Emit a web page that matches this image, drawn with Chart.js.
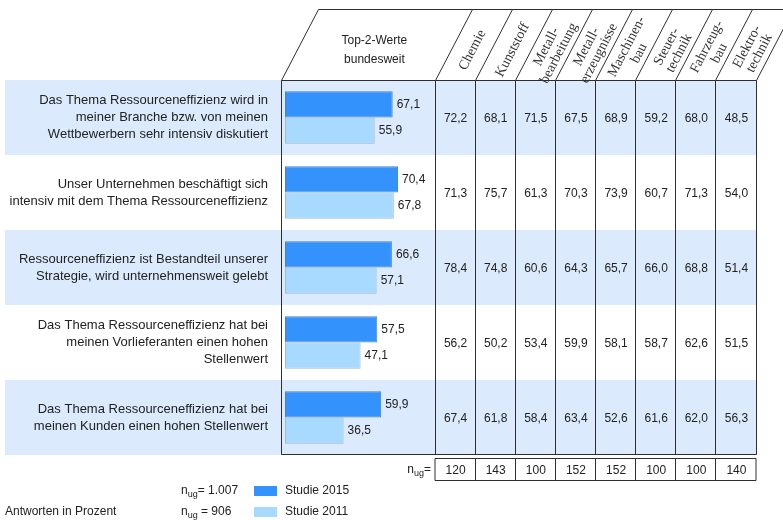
<!DOCTYPE html>
<html>
<head>
<meta charset="utf-8">
<script src="https://cdn.jsdelivr.net/npm/chart.js@4.4.1/dist/chart.umd.min.js"></script>
<style>
  html, body { margin: 0; padding: 0; background: #fff; }
  canvas { display: block; }
</style>
</head>
<body>
<canvas id="chart" width="783" height="520"></canvas>
<script>
const statements = [
  ['Das Thema Ressourceneffizienz wird in', 'meiner Branche bzw. von meinen', 'Wettbewerbern sehr intensiv diskutiert'],
  ['Unser Unternehmen beschäftigt sich', 'intensiv mit dem Thema Ressourceneffizienz'],
  ['Ressourceneffizienz ist Bestandteil unserer', 'Strategie, wird unternehmensweit gelebt'],
  ['Das Thema Ressourceneffizienz hat bei', 'meinen Vorlieferanten einen hohen', 'Stellenwert'],
  ['Das Thema Ressourceneffizienz hat bei', 'meinen Kunden einen hohen Stellenwert'],
]
const study2015 = [67.1, 70.4, 66.6, 57.5, 59.9]
const study2011 = [55.9, 67.8, 57.1, 47.1, 36.5]
const sampleTotal = ['1.007', '906']

const branches = [
  ['Chemie'],
  ['Kunststoff'],
  ['Metall-', 'bearbeitung'],
  ['Metall-', 'erzeugnisse'],
  ['Maschinen-', 'bau'],
  ['Steuer-', 'technik'],
  ['Fahrzeug-', 'bau'],
  ['Elektro-', 'technik'],
]
// one row per statement, one value per branch
const branchValues = [
  [72.2, 68.1, 71.5, 67.5, 68.9, 59.2, 68.0, 48.5],
  [71.3, 75.7, 61.3, 70.3, 73.9, 60.7, 71.3, 54.0],
  [78.4, 74.8, 60.6, 64.3, 65.7, 66.0, 68.8, 51.4],
  [56.2, 50.2, 53.4, 59.9, 58.1, 58.7, 62.6, 51.5],
  [67.4, 61.8, 58.4, 63.4, 52.6, 61.6, 62.0, 56.3],
]
const branchN = [120, 143, 100, 152, 152, 100, 100, 140]

const SANS = '"Liberation Sans", Arial, sans-serif'
const SERIF = '"Liberation Serif", "Times New Roman", serif'
const rowTint = '#dbeafc'
const lineColor = '#2e2e2e'
const headTop = 9.5
const headBottom = 80.5
const panelLeft = 281.5
const panelRight = 435.5
const tableRight = 756.5
const slant = 37 / 71

function fmt(v) {
  return v.toFixed(1).replace('.', ',')
}

// "n" with subscript "ug", followed by the rest of the text
function drawNug(ctx, x, y, rest, align) {
  ctx.font = '12px ' + SANS
  const wn = ctx.measureText('n').width
  ctx.font = '9px ' + SANS
  const wug = ctx.measureText('ug').width
  ctx.font = '12px ' + SANS
  const wr = ctx.measureText(rest).width
  let sx = align === 'right' ? x - (wn + wug + wr) : x
  ctx.textAlign = 'left'
  ctx.textBaseline = 'middle'
  ctx.fillText('n', sx, y)
  ctx.font = '9px ' + SANS
  ctx.fillText('ug', sx + wn, y + 4)
  ctx.font = '12px ' + SANS
  ctx.fillText(rest, sx + wn + wug, y)
}

const tablePlugin = {
  id: 'tablePlugin',
  beforeDatasetsDraw(chart) {
    const { ctx, chartArea, scales } = chart
    const half = (chartArea.bottom - chartArea.top) / statements.length / 2
    ctx.save()
    ctx.fillStyle = rowTint
    statements.forEach((s, i) => {
      if (i % 2) return
      const c = scales.y.getPixelForValue(i)
      ctx.fillRect(5, c - half, tableRight - 5, half * 2)
    })
    ctx.restore()
  },
  afterDatasetsDraw(chart) {
    const { ctx, chartArea, scales } = chart
    const rowsBottom = Math.round(chartArea.bottom) - 0.5
    const colW = (tableRight - panelRight) / branches.length
    ctx.save()

    // bar values
    ctx.fillStyle = '#222'
    ctx.font = '12px ' + SANS
    ctx.textAlign = 'left'
    ctx.textBaseline = 'middle'
    chart.data.datasets.forEach((ds, d) => {
      chart.getDatasetMeta(d).data.forEach((bar, i) => {
        ctx.fillText(fmt(ds.data[i]), bar.x + 4, bar.y)
      })
    })

    // statement labels
    ctx.font = '13px ' + SANS
    ctx.textAlign = 'right'
    statements.forEach((lines, i) => {
      const c = scales.y.getPixelForValue(i)
      lines.forEach((t, j) => {
        ctx.fillText(t, 268, c + (j - (lines.length - 1) / 2) * 17)
      })
    })

    // branch values
    ctx.font = '12px ' + SANS
    ctx.textAlign = 'center'
    branchValues.forEach((row, i) => {
      const c = scales.y.getPixelForValue(i)
      row.forEach((v, k) => {
        ctx.fillText(fmt(v), panelRight + (k + 0.5) * colW, c + 1)
      })
    })

    // grid
    ctx.strokeStyle = lineColor
    ctx.lineWidth = 1
    ctx.beginPath()
    ctx.moveTo(panelLeft, rowsBottom)
    ctx.lineTo(panelLeft, headBottom)
    ctx.lineTo(panelLeft + (headBottom - headTop) * slant, headTop)
    ctx.lineTo(783, headTop)
    ctx.moveTo(panelLeft, headBottom)
    ctx.lineTo(tableRight, headBottom)
    ctx.moveTo(panelLeft, rowsBottom)
    ctx.lineTo(tableRight, rowsBottom)
    for (let k = 0; k <= branches.length; k++) {
      const x = Math.round(panelRight + k * colW) - 0.5
      ctx.moveTo(x, rowsBottom)
      ctx.lineTo(x, headBottom)
      ctx.lineTo(x + (headBottom - headTop) * slant, headTop)
    }
    ctx.stroke()

    // sample size row
    const nTop = 458.5
    const nBottom = 480.5
    ctx.beginPath()
    ctx.rect(panelRight - 0.5, nTop, tableRight - panelRight, nBottom - nTop)
    for (let k = 1; k < branches.length; k++) {
      const x = Math.round(panelRight + k * colW) - 0.5
      ctx.moveTo(x, nTop)
      ctx.lineTo(x, nBottom)
    }
    ctx.stroke()
    ctx.fillStyle = '#222'
    ctx.font = '12px ' + SANS
    ctx.textAlign = 'center'
    branchN.forEach((n, k) => {
      ctx.fillText(String(n), panelRight + (k + 0.5) * colW, (nTop + nBottom) / 2 + 1)
    })
    drawNug(ctx, 431, (nTop + nBottom) / 2, '=', 'right')

    // header
    ctx.font = '12px ' + SANS
    ctx.textAlign = 'center'
    const hx = (panelLeft + panelRight) / 2 + (headBottom - 50) * slant
    ctx.fillText('Top-2-Werte', hx, 41)
    ctx.fillText('bundesweit', hx, 60)

    const ang = -Math.atan2(headBottom - headTop, (headBottom - headTop) * slant)
    ctx.font = '14px ' + SERIF
    ctx.fillStyle = '#333'
    branches.forEach((lines, k) => {
      const cy = 50
      const cx = panelRight + (k + 0.5) * colW + (headBottom - cy) * slant + 1
      ctx.save()
      ctx.translate(cx, cy)
      ctx.rotate(ang)
      lines.forEach((t, j) => {
        ctx.fillText(t, 0, (j - (lines.length - 1) / 2) * 14)
      })
      ctx.restore()
    })

    // legend
    chart.data.datasets.forEach((ds, d) => {
      const y = 491 + d * 21
      ctx.fillStyle = '#222'
      drawNug(ctx, 181, y, (d ? ' = ' : '= ') + sampleTotal[d], 'left')
      ctx.fillStyle = ds.backgroundColor
      ctx.fillRect(254, y - 5, 23, 10)
      ctx.fillStyle = '#222'
      ctx.font = '12px ' + SANS
      ctx.textAlign = 'left'
      ctx.fillText(ds.label, 285, y)
    })
    ctx.fillText('Antworten in Prozent', 5, 512)

    ctx.restore()
  },
}

Chart.defaults.font.family = SANS

new Chart(document.getElementById('chart'), {
  type: 'bar',
  data: {
    labels: statements.map((s) => s.join(' ')),
    datasets: [
      { label: 'Studie 2015', data: study2015, backgroundColor: '#3392fc', borderColor: '#4d82c2', borderWidth: 1, borderSkipped: false },
      { label: 'Studie 2011', data: study2011, backgroundColor: '#a8d9fe', borderColor: '#9dbbd2', borderWidth: 1, borderSkipped: false },
    ],
  },
  options: {
    indexAxis: 'y',
    responsive: false,
    animation: false,
    devicePixelRatio: 1,
    layout: { padding: { left: 285, right: 783 - 445.5, top: 80, bottom: 65 } },
    scales: {
      x: { display: false, min: 0, max: 100 },
      y: { display: false },
    },
    datasets: { bar: { categoryPercentage: 0.7, barPercentage: 1 } },
    plugins: { legend: { display: false }, tooltip: { enabled: false } },
  },
  plugins: [tablePlugin],
})
</script>
</body>
</html>
